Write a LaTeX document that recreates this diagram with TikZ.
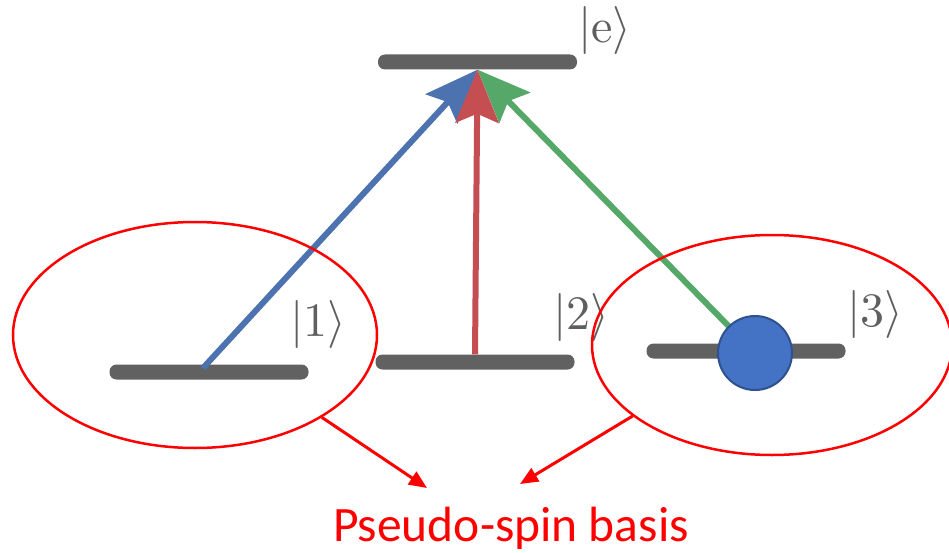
\documentclass[tikz,border=0pt]{standalone}
\usepackage{amsmath}
\usepackage{xcolor}
\usepackage{fontspec}
\usepackage{tikz}
\usetikzlibrary{arrows.meta, positioning, shapes.geometric, calc}
\newfontfamily\labelfont{Carlito}
\newcommand{\bigket}[1]{\scalebox{4.8}{$|#1\rangle$}}
\definecolor{barcol}{RGB}{97,97,97}
\definecolor{ketcol}{RGB}{95,95,95}
\definecolor{upblue}{RGB}{76,114,176}
\definecolor{upred}{RGB}{196,78,82}
\definecolor{upgreen}{RGB}{85,168,104}
\definecolor{dotfill}{RGB}{68,114,196}
\definecolor{dotline}{RGB}{47,82,143}

\begin{document}
\begin{tikzpicture}[x=1pt, y=-1pt,
        level/.style={fill=barcol, rounded corners=7pt, inner sep=0pt,
                      minimum width=199pt, minimum height=15pt},
        ket/.style={text=ketcol, inner sep=0pt, anchor=base west},
        pump/.style={line width=6pt,
                     -{Stealth[length=53pt, width=43pt, inset=9pt]}},
        group/.style={ellipse, draw=red, line width=2.5pt, inner sep=0pt},
        hint/.style={draw=red, line width=3pt,
                     -{Triangle[length=18pt, width=15pt]}}]

      \useasboundingbox (0,0) rectangle (949,553);

      % energy levels
      \node[level] (e)  at (477.5,62) {};
      \node[level] (l1) at (209,372) {};
      \node[level] (l2) at (475,362) {};
      \node[level] (l3) at (746,351) {};

      \node[ket] (ke) at (578,43)  {\bigket{\mathrm{e}}};
      \node[ket] (k1) at (290,336) {\bigket{1}};
      \node[ket] (k2) at (553,329) {\bigket{2}};
      \node[ket] (k3) at (847,326) {\bigket{3}};

      % transitions
      \coordinate (s1) at (203,368);
      \draw[pump, upblue]  (s1) -- (e.south);
      \draw[pump, upgreen] (755,353) coordinate (s3) -- (e.south);
      \draw[pump, upred]   (l2.north) -- (e.south);

      \node[circle, fill=dotfill, draw=dotline, line width=2pt,
            minimum size=74pt, inner sep=0pt] (dot) at (s3) {};

      % pseudo-spin basis
      \node[group, minimum width=364pt, minimum height=226pt] (b1) at (195,335) {};
      \node[group, minimum width=360pt, minimum height=220pt] (b2) at (772,345) {};

      \node[text=red, anchor=base, inner sep=0pt,
            font=\labelfont\fontsize{49.5}{58}\selectfont] (basis) at (511,541)
            {Pseudo-spin basis};
      \coordinate (t1) at (427,488);
      \coordinate (t2) at (520,484);

      \draw[hint] (b1.-33)  -- (t1);
      \draw[hint] (b2.-153) -- (t2);
    \end{tikzpicture}
\end{document}
